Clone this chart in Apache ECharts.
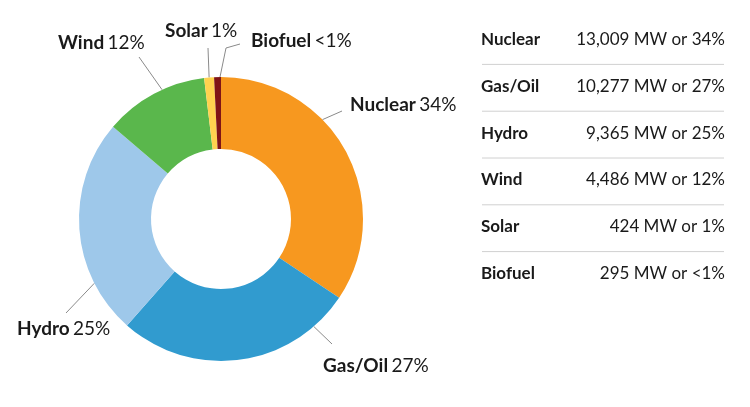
<!DOCTYPE html>
<html>
<head>
<meta charset="utf-8">
<script src="https://cdn.jsdelivr.net/npm/echarts@6/dist/echarts.min.js"></script>
<style>
  html, body { margin: 0; padding: 0; background: #fff; }
  #chart { width: 750px; height: 407px; }
</style>
</head>
<body>
<div id="chart"></div>
<script>
// data
var sources = ['Nuclear', 'Gas/Oil', 'Hydro', 'Wind', 'Solar', 'Biofuel'];
var megawatts = [13009, 10277, 9365, 4486, 424, 295];
var shares = ['34%', '27%', '25%', '12%', '1%', '<1%'];
var mwLabels = ['13,009', '10,277', '9,365', '4,486', '424', '295'];

var colors = ['#f7981f', '#319bcf', '#9ec8ea', '#5ab74c', '#ffd24f', '#7f1416'];
var fontFamily = 'Lato, "Open Sans", sans-serif';
var ink = '#1a1a1a';

var cx = 221, cy = 219, rIn = 70, rOut = 142;

// label placement: left edge / vertical middle of the text,
// the angle where the leader leaves the ring, and the leader's far end(s)
var labelSpots = [
    { x: 350, y: 105, angle: 44.4, ends: [[342, 111]] },
    { x: 323, y: 366, angle: -49.2, ends: [[332, 344]] },
    { x: 17, y: 329, angle: 206.9, ends: [[66, 313]] },
    { x: 58, y: 43, angle: 114.5, ends: [[139, 57]] },
    { x: 165, y: 31, angle: 94.8, ends: [[208, 48]] },
    { x: 251, y: 41, angle: 90.4, ends: [[226, 48], [240, 44]] }
];

var pieData = sources.map(function (name, i) {
    return { name: name, value: megawatts[i], itemStyle: { color: colors[i] } };
});

// right-hand table
var graphics = [];
var rowTop = 41, rowStep = 46.8;
sources.forEach(function (name, i) {
    var y = rowTop + i * rowStep;
    graphics.push({
        type: 'text', left: 481, top: y - 10,
        style: { text: name, font: 'bold 17px ' + fontFamily, fill: ink }
    });
    graphics.push({
        type: 'text', right: 25, top: y - 10,
        style: { text: mwLabels[i] + ' MW or ' + shares[i], font: '17px ' + fontFamily, fill: ink, align: 'right' }
    });
    if (i < sources.length - 1) {
        graphics.push({
            type: 'line',
            shape: { x1: 482, y1: y + rowStep / 2, x2: 724, y2: y + rowStep / 2 },
            style: { stroke: '#d0d0d0', lineWidth: 1 }
        });
    }
});

var chart = echarts.init(document.getElementById('chart'));
chart.setOption({
    animation: false,
    graphic: graphics,
    series: [{
        type: 'pie',
        center: [cx, cy],
        radius: [rIn, rOut],
        startAngle: 90,
        clockwise: true,
        avoidLabelOverlap: false,
        itemStyle: { borderWidth: 0 },
        emphasis: { disabled: true },
        label: {
            show: true,
            position: 'outside',
            formatter: function (p) {
                return '{b|' + p.name + '} {p|' + shares[p.dataIndex] + '}';
            },
            rich: {
                b: { fontFamily: fontFamily, fontWeight: 'bold', fontSize: 19, color: ink },
                p: { fontFamily: fontFamily, fontSize: 19, color: ink }
            }
        },
        labelLine: {
            show: true,
            length: 10,
            length2: 0,
            lineStyle: { color: '#8a8a8a', width: 1 }
        },
        labelLayout: function (params) {
            var s = labelSpots[params.dataIndex];
            var a = s.angle * Math.PI / 180;
            var pts = [[cx + rOut * Math.cos(a), cy - rOut * Math.sin(a)]].concat(s.ends);
            return {
                x: s.x,
                y: s.y - params.labelRect.height / 2,
                align: 'left',
                verticalAlign: 'top',
                labelLinePoints: pts
            };
        },
        data: pieData
    }]
});
</script>
</body>
</html>
